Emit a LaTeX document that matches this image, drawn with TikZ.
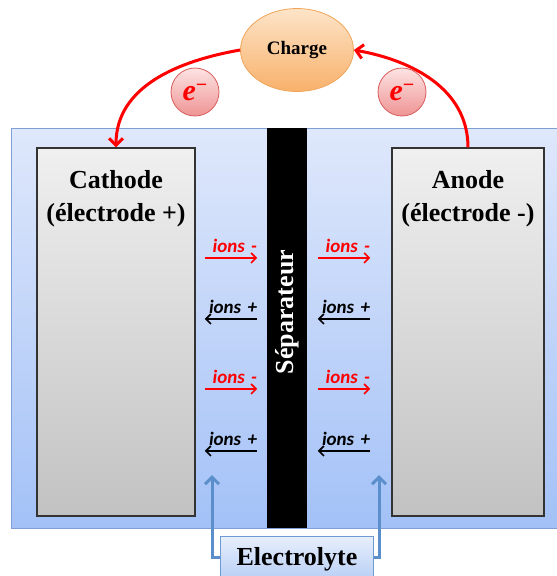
\documentclass[tikz,border=0pt]{standalone}
\usepackage{fontspec}
\setmainfont{Liberation Serif}
\newfontfamily\calibri{Carlito}
\usepackage{tikz}
\usetikzlibrary{arrows.meta,positioning,shapes.geometric}
\usepackage{xcolor}
\definecolor{bleuhaut}{HTML}{DFE8FB}
\definecolor{bleubas}{HTML}{A3C1F7}
\definecolor{bleubord}{HTML}{7F9FD6}
\definecolor{orhaut}{HTML}{FDE4C8}
\definecolor{orbas}{HTML}{F8B16B}
\definecolor{orbord}{HTML}{F2A55A}
\definecolor{rosehaut}{HTML}{FDE3E3}
\definecolor{rosebas}{HTML}{EF9494}
\definecolor{rosebord}{HTML}{D85C5C}
\definecolor{rouge}{HTML}{FF0000}
\definecolor{bleufleche}{HTML}{5B8FCB}
\definecolor{elechaut}{HTML}{E8EFFC}
\definecolor{elecbas}{HTML}{B5CDF5}
\definecolor{elecbord}{HTML}{6E9AD3}
\newcommand{\electron}{\textbf{\textit{e}}\raisebox{9pt}{\fontsize{20}{20}\selectfont\textbf{−}}}

\begin{document}
\begin{tikzpicture}[x=1pt,y=-1pt,
    electrode/.style={draw=black!80, line width=1.2pt, top color=gray!12, bottom color=gray!48,
        minimum height=368, inner sep=0},
    titre/.style={font=\bfseries\fontsize{26}{33}\selectfont, align=center, inner sep=0},
    ionneg/.style={font=\calibri\bfseries\itshape\fontsize{19}{19}\selectfont, text=rouge,
        text width=52, align=right, inner sep=0},
    ionpos/.style={ionneg, text=black},
    bulle/.style={circle, draw=rosebord, line width=0.8pt, top color=rosehaut, bottom color=rosebas,
        minimum size=48, inner sep=0, text=rouge, font=\fontsize{30}{30}\selectfont},
    flecherouge/.style={-{Straight Barb[length=7pt,width=14pt,line width=3pt]}, rouge, line width=3pt},
    flechebleue/.style={-{Straight Barb[length=7pt,width=14pt,line width=3pt]}, bleufleche, line width=3pt},
    flecheion/.style={-{Straight Barb[length=5pt,width=10pt,line width=1.6pt]}, line width=1.6pt}
]
    \useasboundingbox (0,0) rectangle (557,576);

    % Bac d'electrolyte
    \node[draw=bleubord, line width=1pt, top color=bleuhaut, bottom color=bleubas,
        minimum width=560, minimum height=400, inner sep=0] (bac) at (291,328) {};

    % Electrodes
    \node[electrode, minimum width=158] (cathode) at (116,332) {};
    \node[electrode, minimum width=152] (anode) at (468,332) {};
    \node[titre, anchor=north] (txtcathode) at (116,170) {Cathode\\(électrode +)};
    \node[titre, anchor=north] (txtanode) at (468,170) {Anode\\(électrode -)};

    % Separateur
    \node[fill=black, minimum width=40, minimum height=400, inner sep=0] (sep) at (287,328) {};
    \node[titre, text=white, rotate=90] (txtsep) at (287,312) {Séparateur};

    % Charge et electrons
    \node[ellipse, draw=orbord, line width=0.8pt, top color=orhaut, bottom color=orbas,
        minimum width=113, minimum height=83, inner sep=0,
        font=\bfseries\fontsize{19}{19}\selectfont] (charge) at (297,50) {Charge};
    \node[bulle] (eg) at (195,92) {\electron};
    \node[bulle] (ed) at (402,92) {\electron};
    \draw[flecherouge] (charge.west) to[out=190,in=90] (cathode.north);
    \draw[flecherouge] (anode.north) to[out=90,in=-10] (charge.east);

    % Ions
    \node[ionneg] (in1) at (231,246) {ions -};
    \node[ionneg] (in2) at (344,246) {ions -};
    \node[ionpos] (ip1) at (231,307) {ions +};
    \node[ionpos] (ip2) at (344,307) {ions +};
    \node[ionneg] (in3) at (231,377) {ions -};
    \node[ionneg] (in4) at (344,377) {ions -};
    \node[ionpos] (ip3) at (231,439) {ions +};
    \node[ionpos] (ip4) at (344,439) {ions +};
    \draw[flecheion, rouge] ([yshift=-5pt]in1.south west) -- ([yshift=-5pt]in1.south east);
    \draw[flecheion, rouge] ([yshift=-5pt]in2.south west) -- ([yshift=-5pt]in2.south east);
    \draw[flecheion, rouge] ([yshift=-5pt]in3.south west) -- ([yshift=-5pt]in3.south east);
    \draw[flecheion, rouge] ([yshift=-5pt]in4.south west) -- ([yshift=-5pt]in4.south east);
    \draw[flecheion] ([yshift=-5pt]ip1.south east) -- ([yshift=-5pt]ip1.south west);
    \draw[flecheion] ([yshift=-5pt]ip2.south east) -- ([yshift=-5pt]ip2.south west);
    \draw[flecheion] ([yshift=-5pt]ip3.south east) -- ([yshift=-5pt]ip3.south west);
    \draw[flecheion] ([yshift=-5pt]ip4.south east) -- ([yshift=-5pt]ip4.south west);

    % Electrolyte
    \node[draw=elecbord, line width=1pt, top color=elechaut, bottom color=elecbas,
        minimum width=153, minimum height=46, inner sep=0,
        font=\bfseries\fontsize{26}{26}\selectfont] (elec) at (297,559) {Electrolyte};
    \coordinate (pg) at (212,475);
    \coordinate (pd) at (379,475);
    \draw[flechebleue] ([yshift=2pt]elec.west) -| (pg);
    \draw[flechebleue] ([yshift=2pt]elec.east) -| (pd);
\end{tikzpicture}
\end{document}
